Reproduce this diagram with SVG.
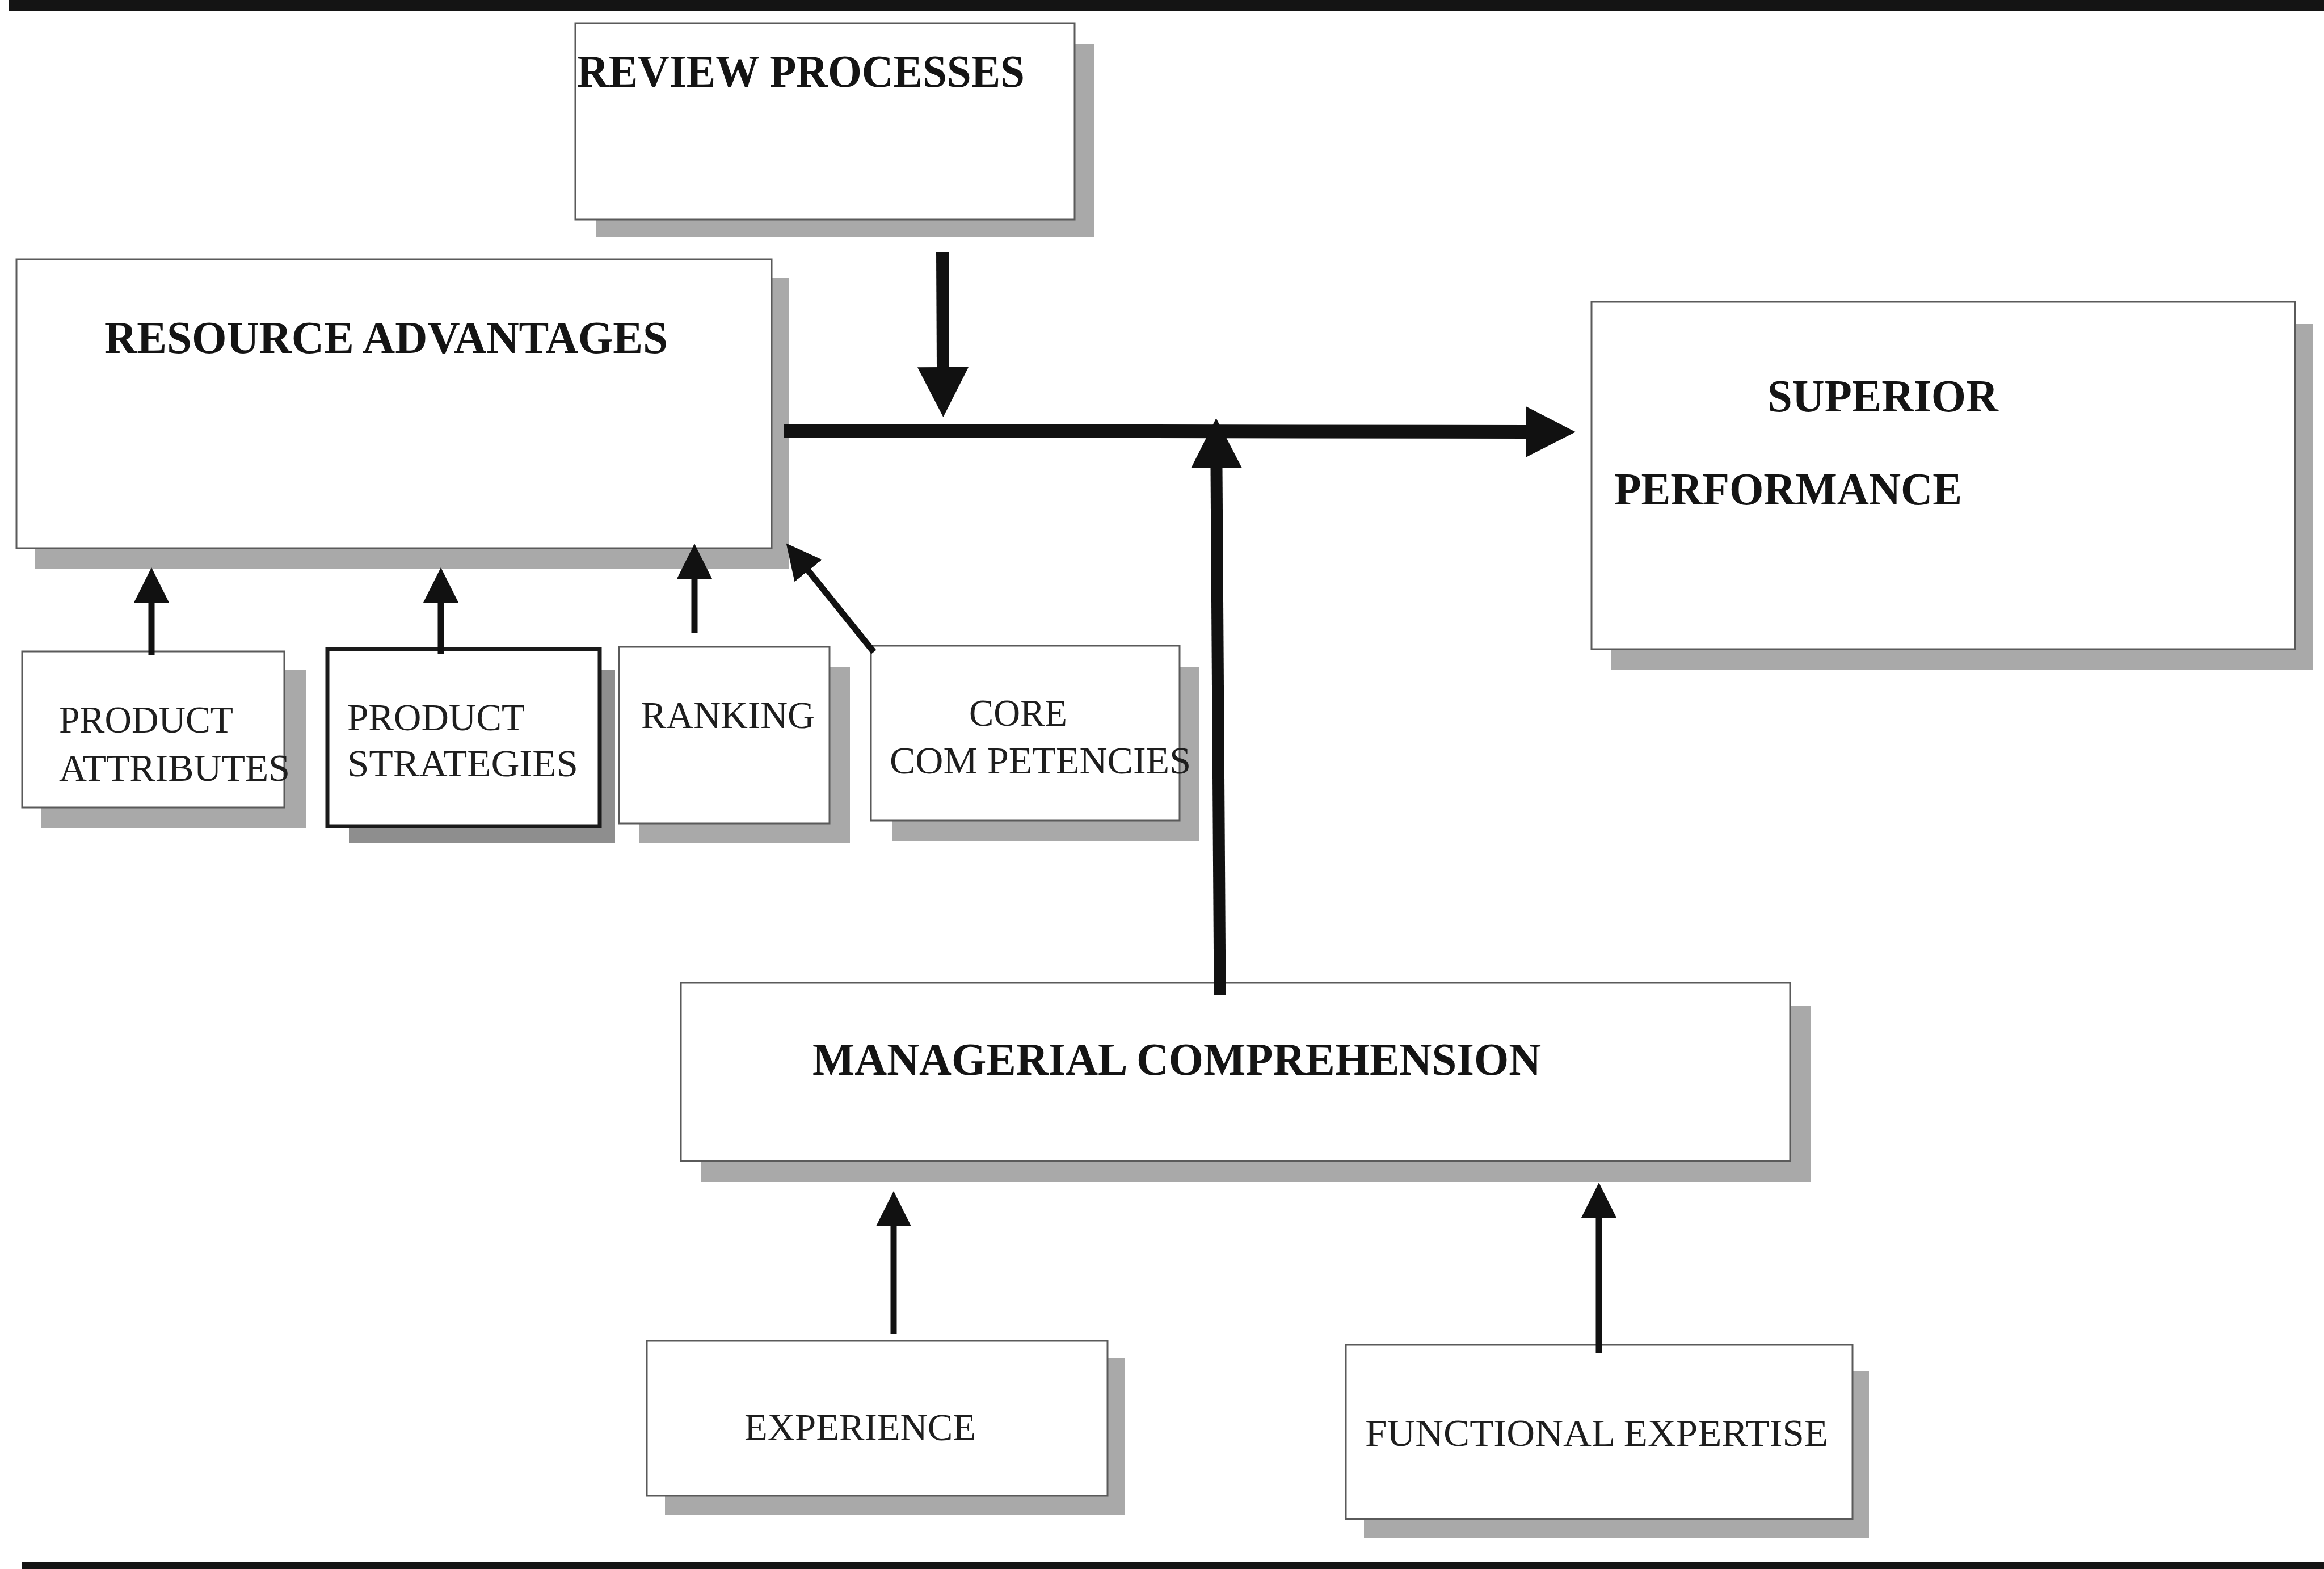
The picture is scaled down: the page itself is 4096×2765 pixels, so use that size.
<svg xmlns="http://www.w3.org/2000/svg" width="4096" height="2765" viewBox="0 0 4096 2765">
<defs>
<style>
.bg{fill:#ffffff}
.bar{fill:#141414}
.sh{fill:#a9a9a9}
.shd{fill:#8e8e8e}
.box{fill:#ffffff;stroke:#5a5a5a;stroke-width:3}
.boxk{fill:#ffffff;stroke:#1a1a1a;stroke-width:7}
.tb{font-family:"Liberation Serif","Times New Roman",serif;font-weight:bold;fill:#141414}
.tr{font-family:"Liberation Serif","Times New Roman",serif;font-weight:normal;fill:#1e1e1e}
.c{stroke:#111;fill:none;stroke-linecap:butt}
.thin{stroke-width:11}
.thick{stroke-width:22}
</style>
<marker id="ah" markerUnits="userSpaceOnUse" viewBox="0 0 62 62" markerWidth="62" markerHeight="62" refX="1" refY="31" orient="auto">
<path d="M0,0 L62,31 L0,62 z" fill="#111"/>
</marker>
<marker id="ahb" markerUnits="userSpaceOnUse" viewBox="0 0 90 90" markerWidth="90" markerHeight="90" refX="1" refY="45" orient="auto">
<path d="M0,0 L88,45 L0,90 z" fill="#111"/>
</marker>
</defs>
<rect class="bg" x="0" y="0" width="4096" height="2765"/>
<rect class="bar" x="16" y="0" width="4080" height="20"/>
<rect class="bar" x="39" y="2753" width="4057" height="12"/>

<g id="review-processes">
<rect class="sh" x="1050" y="78" width="878" height="340"/>
<rect class="box" x="1014" y="41" width="880" height="346"/>
<text class="tb" x="1017" y="153" font-size="80" textLength="789" lengthAdjust="spacingAndGlyphs">REVIEW PROCESSES</text>
</g>

<g id="resource-advantages">
<rect class="sh" x="62" y="490" width="1329" height="512"/>
<rect class="box" x="29" y="457" width="1331" height="509"/>
<text class="tb" x="184" y="622" font-size="80" textLength="993" lengthAdjust="spacingAndGlyphs">RESOURCE ADVANTAGES</text>
</g>

<g id="superior-performance">
<rect class="sh" x="2840" y="571" width="1236" height="610"/>
<rect class="box" x="2805" y="532" width="1240" height="612"/>
<text class="tb" x="3115" y="725" font-size="80" textLength="407" lengthAdjust="spacingAndGlyphs">SUPERIOR</text>
<text class="tb" x="2845" y="889" font-size="80" textLength="613" lengthAdjust="spacingAndGlyphs">PERFORMANCE</text>
</g>

<g id="product-attributes">
<rect class="sh" x="72" y="1180" width="467" height="280"/>
<rect class="box" x="39" y="1148" width="462" height="275"/>
<text class="tr" x="104" y="1291" font-size="67" textLength="307" lengthAdjust="spacingAndGlyphs">PRODUCT</text>
<text class="tr" x="104" y="1376" font-size="67" textLength="407" lengthAdjust="spacingAndGlyphs">ATTRIBUTES</text>
</g>

<g id="product-strategies">
<rect class="shd" x="615" y="1180" width="469" height="306"/>
<rect class="boxk" x="577" y="1144" width="480" height="312"/>
<text class="tr" x="612" y="1287" font-size="67" textLength="313" lengthAdjust="spacingAndGlyphs">PRODUCT</text>
<text class="tr" x="612" y="1368" font-size="67" textLength="407" lengthAdjust="spacingAndGlyphs">STRATEGIES</text>
</g>

<g id="ranking">
<rect class="sh" x="1126" y="1175" width="372" height="310"/>
<rect class="box" x="1091" y="1140" width="371" height="311"/>
<text class="tr" x="1130" y="1283" font-size="67" textLength="306" lengthAdjust="spacingAndGlyphs">RANKING</text>
</g>

<g id="core-competencies">
<rect class="sh" x="1572" y="1175" width="541" height="307"/>
<rect class="box" x="1535" y="1138" width="544" height="308"/>
<text class="tr" x="1708" y="1279" font-size="67" textLength="173" lengthAdjust="spacingAndGlyphs">CORE</text>
<text class="tr" x="1568" y="1363" font-size="67" textLength="531" lengthAdjust="spacingAndGlyphs">COM PETENCIES</text>
</g>

<g id="managerial-comprehension">
<rect class="sh" x="1236" y="1772" width="1955" height="311"/>
<rect class="box" x="1200" y="1732" width="1955" height="314"/>
<text class="tb" x="1432" y="1894" font-size="80" textLength="1284" lengthAdjust="spacingAndGlyphs">MANAGERIAL COMPREHENSION</text>
</g>

<g id="experience">
<rect class="sh" x="1172" y="2394" width="811" height="276"/>
<rect class="box" x="1140" y="2363" width="812" height="273"/>
<text class="tr" x="1312" y="2538" font-size="67" textLength="408" lengthAdjust="spacingAndGlyphs">EXPERIENCE</text>
</g>

<g id="functional-expertise">
<rect class="sh" x="2404" y="2416" width="890" height="295"/>
<rect class="box" x="2372" y="2370" width="893" height="307"/>
<text class="tr" x="2406" y="2548" font-size="67" textLength="816" lengthAdjust="spacingAndGlyphs">FUNCTIONAL EXPERTISE</text>
</g>

<g id="connectors">
<line class="c" x1="1382" y1="759" x2="2690" y2="761" stroke-width="24" marker-end="url(#ahb)"/>
<line class="c thick" x1="1661" y1="444" x2="1662" y2="648" marker-end="url(#ahb)"/>
<line class="c" x1="2150" y1="1754" x2="2144" y2="824" stroke-width="21" marker-end="url(#ahb)"/>
<line class="c thin" x1="267" y1="1155" x2="267" y2="1061" marker-end="url(#ah)"/>
<line class="c thin" x1="777" y1="1152" x2="777" y2="1061" marker-end="url(#ah)"/>
<line class="c thin" x1="1224" y1="1115" x2="1224" y2="1019" marker-end="url(#ah)"/>
<line class="c thin" x1="1540" y1="1149" x2="1424" y2="1005" marker-end="url(#ah)"/>
<line class="c thin" x1="1575" y1="2350" x2="1575" y2="2160" marker-end="url(#ah)"/>
<line class="c thin" x1="2818" y1="2384" x2="2818" y2="2145" marker-end="url(#ah)"/>
</g>
</svg>
